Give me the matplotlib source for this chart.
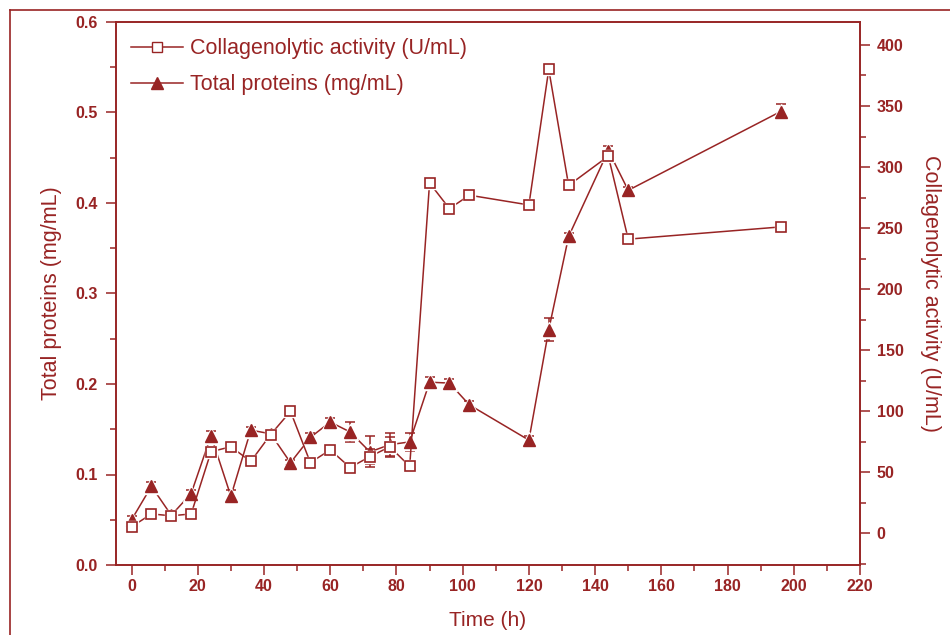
import numpy as np
import matplotlib
matplotlib.use("Agg")
import matplotlib.pyplot as plt
from matplotlib.lines import Line2D
from matplotlib.ticker import MultipleLocator

plt.rcParams['font.family'] = ['Liberation Sans', 'DejaVu Sans']

# data
time_h = [0, 6, 12, 18, 24, 30, 36, 42, 48, 54, 60, 66, 72, 78, 84,
          90, 96, 102, 120, 126, 132, 144, 150, 196]
collagenolytic = [5.5, 16, 14.5, 16, 67, 71, 59, 81, 100, 58, 68.5, 54, 63, 71, 55,
                  287, 266, 277, 269, 380, 285, 309, 241, 251]
collagen_err = [2, 2, 2, 2, 2, 2, 2, 2, 2, 2, 2, 2, 6, 8, 2,
                2, 2, 2, 2, 2, 2, 2, 2, 2]
proteins = [0.050, 0.087, 0.055, 0.079, 0.143, 0.076, 0.149, 0.145, 0.113, 0.141,
            0.158, 0.147, 0.125, 0.133, 0.136, 0.202, 0.201, 0.177, 0.138, 0.260,
            0.363, 0.458, 0.414, 0.501]
proteins_err = [0.004, 0.005, 0.003, 0.004, 0.005, 0.007, 0.004, 0.004, 0.003, 0.005,
                0.004, 0.011, 0.017, 0.013, 0.010, 0.006, 0.004, 0.004, 0.004, 0.013,
                0.004, 0.005, 0.004, 0.008]

red = '#982424'

fig = plt.figure(figsize=(9.5, 6.35), dpi=100)
ax = fig.add_axes([116/950, 70/635, 744/950, 543/635])
ax2 = ax.twinx()

# proteins on left axis (triangles)
ax.errorbar(time_h, proteins, yerr=proteins_err, color=red, lw=1.1,
            capsize=3.5, elinewidth=1.1, capthick=1.1, fmt='-', zorder=2)
ax.plot(time_h, proteins, ls='none', marker='^', ms=12, mfc='white', mec='white', zorder=3)
ax.plot(time_h, proteins, ls='none', marker='^', ms=9, mfc=red, mec=red, zorder=4)

# collagenolytic activity on right axis (open squares)
ax2.errorbar(time_h, collagenolytic, yerr=collagen_err, color=red, lw=1.1,
             capsize=3.5, elinewidth=1.1, capthick=1.1, fmt='-', zorder=2)
ax2.plot(time_h, collagenolytic, ls='none', marker='s', ms=9, mfc='white', mec='white', zorder=3)
ax2.plot(time_h, collagenolytic, ls='none', marker='s', ms=6.5, mfc='white', mec=red,
         mew=1.2, zorder=4)

ax.set_xlim(-4.7, 220)
ax.set_ylim(0, 0.6)
ax2.set_ylim(-25.8, 418.8)

ax.xaxis.set_major_locator(MultipleLocator(20))
ax.xaxis.set_minor_locator(MultipleLocator(10))
ax.yaxis.set_major_locator(MultipleLocator(0.1))
ax.yaxis.set_minor_locator(MultipleLocator(0.05))
ax2.yaxis.set_major_locator(MultipleLocator(50))
ax2.yaxis.set_minor_locator(MultipleLocator(25))
ax2.set_yticks(np.arange(0, 401, 50))
ax.yaxis.set_major_formatter(matplotlib.ticker.FormatStrFormatter('%.1f'))

for a in (ax, ax2):
    for s in a.spines.values():
        s.set_color(red)
        s.set_linewidth(1.2)
    a.tick_params(which='major', length=7, width=1.1, color=red, labelcolor=red,
                  labelsize=11.5, direction='out', pad=3)
    a.tick_params(which='minor', length=4, width=1.1, color=red, direction='out')
    for lab in a.get_xticklabels() + a.get_yticklabels():
        lab.set_fontweight('bold')
ax.tick_params(axis='y', pad=6)
ax2.tick_params(axis='y', pad=5)

ax.set_xlabel('Time (h)', color=red, fontsize=15, labelpad=12)
ax.set_ylabel('Total proteins (mg/mL)', color=red, fontsize=15.5, labelpad=10)
ax2.set_ylabel('Collagenolytic activity (U/mL)', color=red, fontsize=15.5,
               rotation=-90, labelpad=27)

handles = [
    Line2D([], [], color=red, lw=1.1, marker='s', ms=6.5, mfc='white', mec=red),
    Line2D([], [], color=red, lw=1.1, marker='^', ms=9, mfc=red, mec=red),
]
ax.legend(handles, ['Collagenolytic activity (U/mL)', 'Total proteins (mg/mL)'],
          loc='upper left', bbox_to_anchor=(0.0, 0.998), frameon=False,
          fontsize=15.5, labelcolor=red, handlelength=2.4, handletextpad=0.35,
          borderaxespad=0.3, labelspacing=0.7)

# outer frame lines
fig.add_artist(Line2D([10/950, 10/950], [0, 1 - 10/635], color=red, lw=1.2))
fig.add_artist(Line2D([10/950, 1], [1 - 10/635, 1 - 10/635], color=red, lw=1.2))

fig.savefig('out.png', dpi=100)
